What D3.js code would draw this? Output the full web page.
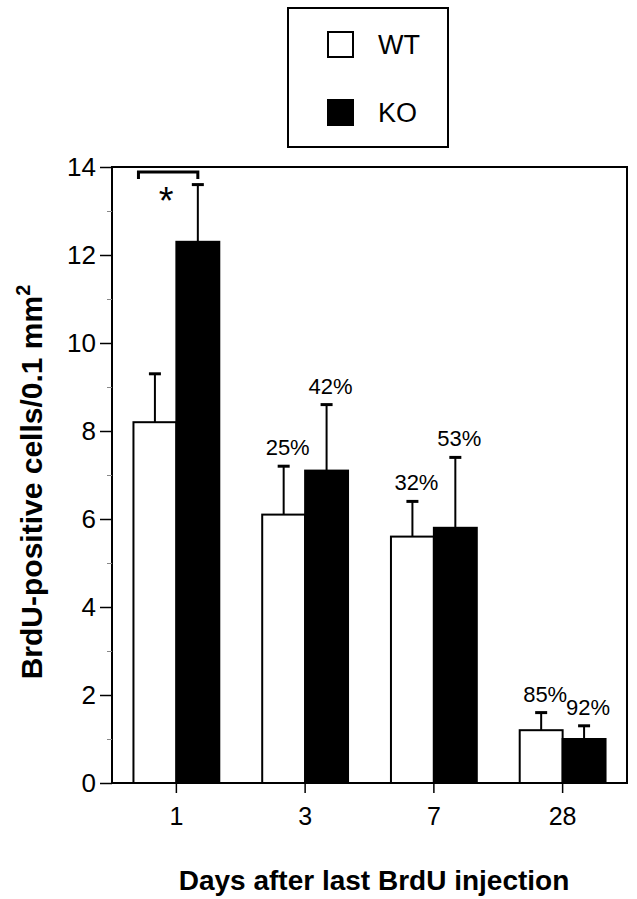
<!DOCTYPE html>
<html>
<head>
<meta charset="utf-8">
<script src="https://cdn.jsdelivr.net/npm/d3@7"></script>
<style>
  body { margin: 0; background: #fff; }
  svg { display: block; }
  text { font-family: "Liberation Sans", Arial, Helvetica, sans-serif; fill: #000; }
</style>
</head>
<body>
<svg id="chart" width="637" height="899"></svg>
<script>
// ---- data ----
const days = ["1", "3", "7", "28"];
const seriesNames = ["WT", "KO"];
const wtValues = [8.2, 6.1, 5.6, 1.2];
const wtErrorTop = [9.3, 7.2, 6.4, 1.6];
const koValues = [12.3, 7.1, 5.8, 1.0];
const koErrorTop = [13.6, 8.6, 7.4, 1.3];
const wtLabels = ["", "25%", "32%", "85%"];
const koLabels = ["", "42%", "53%", "92%"];
const yMajorTicks = [0, 2, 4, 6, 8, 10, 12, 14];
const yMinorTicks = [1, 3, 5, 7, 9, 11, 13];
const yTitle = "BrdU-positive cells/0.1 mm";
const xTitle = "Days after last BrdU injection";

// ---- build ----
(function () {
const svg = d3.select("#chart");
const mLeft = 112, mRight = 627, mTop = 167, mBottom = 783;

const y = d3.scaleLinear().domain([0, 14]).range([mBottom, mTop]);
const x0 = d3.scaleBand().domain(days).range([mLeft, mRight]).padding(0);
const x1 = d3.scaleBand().domain(seriesNames).range([0, x0.bandwidth()]).paddingOuter(0.5).paddingInner(0);

const rows = [];
days.forEach((d, i) => {
  rows.push({day: d, s: "WT", v: wtValues[i], e: wtErrorTop[i], lab: wtLabels[i], fill: "#fff"});
  rows.push({day: d, s: "KO", v: koValues[i], e: koErrorTop[i], lab: koLabels[i], fill: "#000"});
});
const cx = r => x0(r.day) + x1(r.s) + x1.bandwidth() / 2;

// error bars (upper only)
const eb = svg.append("g");
rows.forEach(r => {
  eb.append("line").attr("x1", cx(r)).attr("x2", cx(r))
    .attr("y1", y(r.v)).attr("y2", y(r.e))
    .attr("stroke", "#000").attr("stroke-width", 2);
  eb.append("line").attr("x1", cx(r) - 6).attr("x2", cx(r) + 6)
    .attr("y1", y(r.e)).attr("y2", y(r.e))
    .attr("stroke", "#000").attr("stroke-width", 3);
});

// bars
svg.append("g").selectAll("rect").data(rows).join("rect")
  .attr("x", r => x0(r.day) + x1(r.s))
  .attr("y", r => y(r.v))
  .attr("width", x1.bandwidth())
  .attr("height", r => y(0) - y(r.v))
  .attr("fill", r => r.fill)
  .attr("stroke", "#000").attr("stroke-width", 2);

// percent labels
svg.append("g").selectAll("text").data(rows.filter(r => r.lab)).join("text")
  .attr("x", r => cx(r) + 4)
  .attr("y", r => y(r.e) - 11)
  .attr("text-anchor", "middle")
  .attr("font-size", 22)
  .text(r => r.lab);

// frame
svg.append("rect").attr("x", mLeft).attr("y", mTop)
  .attr("width", mRight - mLeft).attr("height", mBottom - mTop)
  .attr("fill", "none").attr("stroke", "#000").attr("stroke-width", 2);

// y axis
const yAxis = d3.axisLeft(y).tickValues(yMajorTicks).tickSize(12).tickPadding(4).tickFormat(d3.format("d"));
const gy = svg.append("g").attr("transform", `translate(${mLeft},0)`).call(yAxis);
gy.select(".domain").remove();
gy.selectAll(".tick line").attr("stroke", "#000").attr("stroke-width", 1.5);
gy.selectAll(".tick text").attr("font-size", 26).attr("font-family", "Liberation Sans, Arial, sans-serif");
const gyMinor = svg.append("g").attr("transform", `translate(${mLeft},0)`)
  .call(d3.axisLeft(y).tickValues(yMinorTicks).tickSize(5).tickFormat(""));
gyMinor.select(".domain").remove();
gyMinor.selectAll(".tick line").attr("stroke", "#888").attr("stroke-width", 1);

// x axis
const xAxis = d3.axisBottom(x0).tickSize(10).tickPadding(14);
const gx = svg.append("g").attr("transform", `translate(0,${mBottom})`).call(xAxis);
gx.select(".domain").remove();
gx.selectAll(".tick line").attr("stroke", "#000").attr("stroke-width", 1.5);
gx.selectAll(".tick text").attr("font-size", 25).attr("font-family", "Liberation Sans, Arial, sans-serif");

// axis titles
svg.append("text").attr("x", 374).attr("y", 890)
  .attr("text-anchor", "middle").attr("font-size", 28).attr("font-weight", "bold")
  .text(xTitle);
const yt = svg.append("text")
  .attr("transform", "translate(42,482) rotate(-90)")
  .attr("text-anchor", "middle").attr("font-size", 30).attr("font-weight", "bold");
yt.append("tspan").text(yTitle);
yt.append("tspan").attr("dy", -12).attr("font-size", 20).text("2");

// significance bracket
const bx1 = x0(days[0]) + x1("WT") + 5;
const bx2 = x0(days[0]) + x1("KO") + x1.bandwidth() / 2;
const by = y(14) + 5;
svg.append("path")
  .attr("d", `M${bx1},${by + 7}V${by}H${bx2}V${by + 7}`)
  .attr("fill", "none").attr("stroke", "#000").attr("stroke-width", 3);
svg.append("text").attr("x", (bx1 + bx2) / 2 - 2).attr("y", by + 42)
  .attr("text-anchor", "middle").attr("font-size", 38).text("*");

// legend
const lg = svg.append("g");
lg.append("rect").attr("x", 288).attr("y", 8).attr("width", 160).attr("height", 139)
  .attr("fill", "#fff").attr("stroke", "#000").attr("stroke-width", 2);
const legendFills = {WT: "#fff", KO: "#000"};
seriesNames.forEach((s, i) => {
  const yy = 32 + i * 68;
  lg.append("rect").attr("x", 328).attr("y", yy).attr("width", 25).attr("height", 25)
    .attr("fill", legendFills[s]).attr("stroke", "#000").attr("stroke-width", 2);
  lg.append("text").attr("x", 378).attr("y", yy + 22).attr("font-size", 27).text(s);
});
})();
</script>
</body>
</html>
